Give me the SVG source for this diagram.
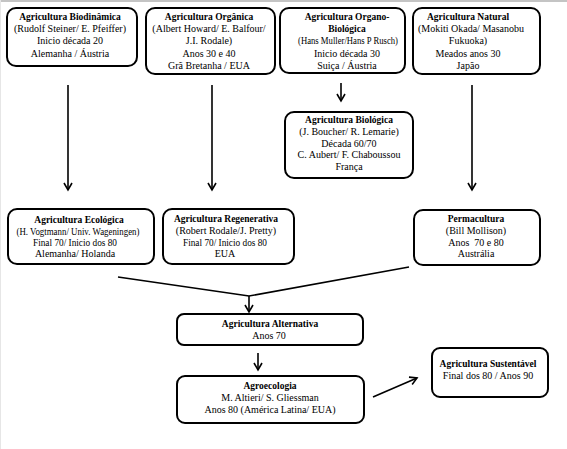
<svg xmlns="http://www.w3.org/2000/svg" width="567" height="449" viewBox="0 0 567 449">
<style>
.box{fill:#fff;stroke:#000;stroke-width:2}
text{font-family:"Liberation Serif","Times New Roman",serif;font-size:10px;fill:#000;text-anchor:middle}
.t{font-weight:bold;font-size:9.5px}
.c{fill:none;stroke:#000;stroke-width:1.6}
</style>
<defs>
<marker id="ah" markerWidth="10" markerHeight="10" refX="8" refY="5" orient="auto" markerUnits="userSpaceOnUse">
<path d="M1,1 L8,5 L1,9" fill="none" stroke="#000" stroke-width="1.6"/>
</marker>
</defs>
<rect x="0" y="0" width="567" height="449" fill="#fff"/>
<rect x="0" y="0" width="567" height="2" fill="#c4c4c4"/>
<rect x="0" y="0" width="1" height="449" fill="#e6e6e6"/>

<g id="biodinamica">
<rect class="box" x="7" y="8" width="130" height="58" rx="9"/>
<text x="70" y="20" class="t">Agricultura Biodinâmica</text>
<text x="70" y="32">(Rudolf Steiner/ E. Pfeiffer)</text>
<text x="70" y="44">Inicio década 20</text>
<text x="70" y="57">Alemanha / Áustria</text>
</g>
<g id="organica">
<rect class="box" x="146" y="8" width="129" height="66" rx="9"/>
<text x="209" y="20" class="t">Agricultura Orgânica</text>
<text x="209" y="32">(Albert Howard/ E. Balfour/</text>
<text x="209" y="44">J.I. Rodale)</text>
<text x="209" y="57">Anos 30 e 40</text>
<text x="209" y="69">Grã Bretanha / EUA</text>
</g>
<g id="organobiologica">
<rect class="box" x="280" y="8" width="125" height="65" rx="9"/>
<text x="347" y="20" class="t">Agricultura Organo-</text>
<text x="347" y="32" class="t">Biológica</text>
<text x="348" y="44" textLength="100" lengthAdjust="spacingAndGlyphs">(Hans Muller/Hans P Rusch)</text>
<text x="347" y="57">Inicio década 30</text>
<text x="347" y="69">Suiça / Áustria</text>
</g>
<g id="natural">
<rect class="box" x="413" y="8" width="127" height="66" rx="9"/>
<text x="468" y="20" class="t">Agricultura Natural</text>
<text x="471" y="32">(Mokiti Okada/ Masanobu</text>
<text x="468" y="44">Fukuoka)</text>
<text x="468" y="57">Meados anos 30</text>
<text x="468" y="69">Japão</text>
</g>
<g id="biologica">
<rect class="box" x="285" y="112" width="128" height="66" rx="9"/>
<text x="349" y="123" class="t">Agricultura Biológica</text>
<text x="349" y="135">(J. Boucher/ R. Lemarie)</text>
<text x="349" y="147">Década 60/70</text>
<text x="349" y="158">C. Aubert/ F. Chaboussou</text>
<text x="349" y="170">França</text>
</g>
<g id="ecologica">
<rect class="box" x="8" y="209" width="146" height="55" rx="9"/>
<text x="79" y="223" class="t">Agricultura Ecológica</text>
<text x="78" y="235" textLength="123" lengthAdjust="spacingAndGlyphs">(H. Vogtmann/ Univ. Wageningen)</text>
<text x="75" y="246" textLength="84" lengthAdjust="spacingAndGlyphs">Final 70/ Inicio dos 80</text>
<text x="75" y="257">Alemanha/ Holanda</text>
</g>
<g id="regenerativa">
<rect class="box" x="163" y="209" width="131" height="55" rx="9"/>
<text x="226" y="222" class="t">Agricultura Regenerativa</text>
<text x="226" y="234">(Robert Rodale/J. Pretty)</text>
<text x="225" y="246" textLength="84" lengthAdjust="spacingAndGlyphs">Final 70/ Inicio dos 80</text>
<text x="225" y="257">EUA</text>
</g>
<g id="permacultura">
<rect class="box" x="414" y="210" width="126" height="55" rx="9"/>
<text x="476" y="222" class="t">Permacultura</text>
<text x="476" y="234">(Bill Mollison)</text>
<text x="476" y="246">Anos&#160; 70 e 80</text>
<text x="476" y="257">Austrália</text>
</g>
<g id="alternativa">
<rect class="box" x="177" y="314" width="186" height="31" rx="7"/>
<text x="270" y="327" class="t">Agricultura Alternativa</text>
<text x="269" y="339">Anos 70</text>
</g>
<g id="agroecologia">
<rect class="box" x="177" y="376" width="187" height="47" rx="8"/>
<text x="270" y="389" class="t">Agroecologia</text>
<text x="270" y="401">M. Altieri/ S. Gliessman</text>
<text x="270" y="413">Anos 80 (América Latina/ EUA)</text>
</g>
<g id="sustentavel">
<rect class="box" x="432" y="348" width="116" height="49" rx="8"/>
<text x="488" y="367" class="t">Agricultura Sustentável</text>
<text x="488" y="379">Final dos 80 / Anos 90</text>
</g>

<g id="connectors">
<line class="c" x1="68" y1="85" x2="68" y2="190" marker-end="url(#ah)"/>
<line class="c" x1="212" y1="85" x2="212" y2="190" marker-end="url(#ah)"/>
<line class="c" x1="341" y1="83" x2="341" y2="101" marker-end="url(#ah)"/>
<line class="c" x1="472" y1="85" x2="472" y2="190" marker-end="url(#ah)"/>
<polyline class="c" points="118,277 249,296 409,267"/>
<line class="c" x1="249" y1="296" x2="249" y2="312" marker-end="url(#ah)"/>
<line class="c" x1="258" y1="353" x2="258" y2="370" marker-end="url(#ah)"/>
<line class="c" x1="373" y1="397" x2="417" y2="378" marker-end="url(#ah)"/>
</g>
</svg>
